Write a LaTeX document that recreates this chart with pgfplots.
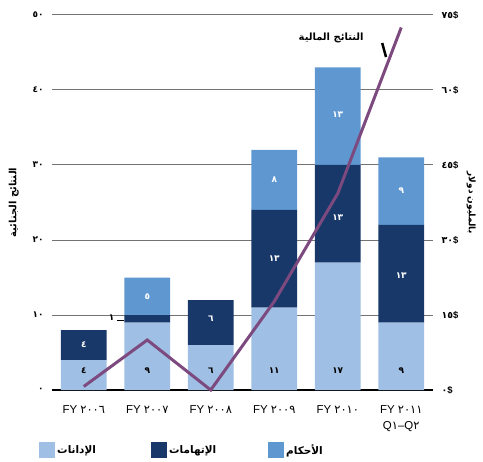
\documentclass[border=0pt]{standalone}
\usepackage{fontspec}
\setmainfont{Liberation Sans}
\newfontfamily\arabicfont[Script=Arabic]{DejaVu Sans}
\usepackage{pgfplots}
\pgfplotsset{compat=1.18}
\TeXXeTstate=1
\definecolor{cLight}{HTML}{A0BFE4}
\definecolor{cNavy}{HTML}{18386A}
\definecolor{cMid}{HTML}{5F98D1}
\definecolor{cLine}{HTML}{7C4A7F}
\newcommand{\dg}[1]{{\arabicfont #1}}
\pgfplotsset{base/.style={at={(0bp,0bp)}, anchor=south west, scale only axis,
  width=381bp, height=375bp, xmin=-0.5, xmax=5.5, clip=false}}
\begin{document}
\begin{tikzpicture}
\useasboundingbox (-52bp,-72bp) rectangle (431bp,390bp);
\begin{axis}[base, ymin=0, ymax=50, ybar stacked, bar width=0.72,
  axis x line*=bottom, axis y line*=left, axis line style={draw=none},
  major tick length=0pt,
  xtick={0,...,5},
  xticklabels={{FY \dg{٢٠٠٦}},{FY \dg{٢٠٠٧}},{FY \dg{٢٠٠٨}},{FY \dg{٢٠٠٩}},{FY \dg{٢٠١٠}},{FY \dg{٢٠١١}\\[3bp]Q\dg{١}–Q\dg{٢}}},
  xticklabel style={font=\fontsize{11.5}{13}\selectfont, align=center, anchor=north, yshift=-12bp},
  ytick={0,10,...,50},
  yticklabels={\dg{٠},\dg{١٠},\dg{٢٠},\dg{٣٠},\dg{٤٠},\dg{٥٠}},
  yticklabel style={font=\bfseries\fontsize{9}{10}\selectfont, xshift=-5bp},
  ymajorgrids, grid style={draw=black!55, line width=1bp},
  ylabel={\mbox{\arabicfont\bfseries\beginR النتائج الجنائية\endR}},
  ylabel style={at={(axis description cs:-0.1,0.5)}, anchor=center, font=\fontsize{10}{12}\selectfont},
  legend columns=3,
  legend style={draw=none, fill=none, at={(axis description cs:-0.034,-0.16)}, anchor=west,
    inner sep=0pt, font=\fontsize{10.5}{12}\selectfont},
  legend image code/.code={\fill[#1] (0bp,-8bp) rectangle (16bp,8bp);},
]
\addplot[fill=cLight, draw=none] coordinates {(0,4)(1,9)(2,6)(3,11)(4,17)(5,9)};
\addlegendentry{\makebox[92bp][l]{\arabicfont\bfseries\beginR الإدانات\endR}}
\addplot[fill=cNavy, draw=none] coordinates {(0,4)(1,1)(2,6)(3,13)(4,13)(5,13)};
\addlegendentry{\makebox[97bp][l]{\arabicfont\bfseries\beginR الإتهامات\endR}}
\addplot[fill=cMid, draw=none] coordinates {(0,0)(1,5)(2,0)(3,8)(4,13)(5,9)};
\addlegendentry{\makebox[50bp][l]{\arabicfont\bfseries\beginR الأحكام\endR}}
\draw[line width=2.5bp, black] (rel axis cs:0,0) -- (rel axis cs:1,0);
\draw[line width=1bp, black] (axis cs:0.53,9.3) -- (axis cs:0.64,9.3);
\end{axis}
\begin{axis}[base, ymin=0, ymax=50, hide axis]
\addplot[draw=none, nodes near coords, point meta=explicit symbolic, nodes near coords align={center},
  every node near coord/.append style={font=\arabicfont\bfseries\fontsize{9}{10}\selectfont, text=black}]
  table[meta=l] {
x y l
0 2.6 ٤
1 2.6 ٩
2 2.6 ٦
3 2.6 ١١
4 2.6 ١٧
5 2.6 ٩
0.44 9.6 ١
};
\addplot[draw=none, nodes near coords, point meta=explicit symbolic, nodes near coords align={center},
  every node near coord/.append style={font=\arabicfont\bfseries\fontsize{9}{10}\selectfont, text=white}]
  table[meta=l] {
x y l
0 6 ٤
2 9.5 ٦
3 17.5 ١٣
4 23 ١٣
5 15.3 ١٣
1 12.5 ٥
3 28 ٨
4 36.7 ١٣
5 26.6 ٩
};
\end{axis}
\begin{axis}[base, ymin=0, ymax=75,
  axis x line=none, axis y line*=right, axis line style={draw=none},
  major tick length=0pt,
  ytick={0,15,...,75},
  yticklabels={\dg{٠}\$,\dg{١٥}\$,\dg{٣٠}\$,\dg{٤٥}\$,\dg{٦٠}\$,\dg{٧٥}\$},
  yticklabel style={font=\bfseries\fontsize{9.5}{10}\selectfont, xshift=5bp},
  ylabel={\mbox{\arabicfont\bfseries\beginR بالمليون دولار\endR}},
  ylabel style={at={(axis description cs:1.1,0.5)}, anchor=center, rotate=180, font=\fontsize{9}{10}\selectfont},
]
\addplot[cLine, line width=3bp] coordinates {(0,0.7)(1,10)(2,0)(3,17.7)(4,39.3)(5,72.5)};
\node[font=\fontsize{10}{12}\selectfont, anchor=west] at (axis cs:3.33,70.4) {\mbox{\arabicfont\bfseries\beginR النتائج المالية\endR}};
\draw[line width=2.5bp, black] (axis cs:4.70,69.4) -- (axis cs:4.76,66.6);
\end{axis}
\end{tikzpicture}
\end{document}
